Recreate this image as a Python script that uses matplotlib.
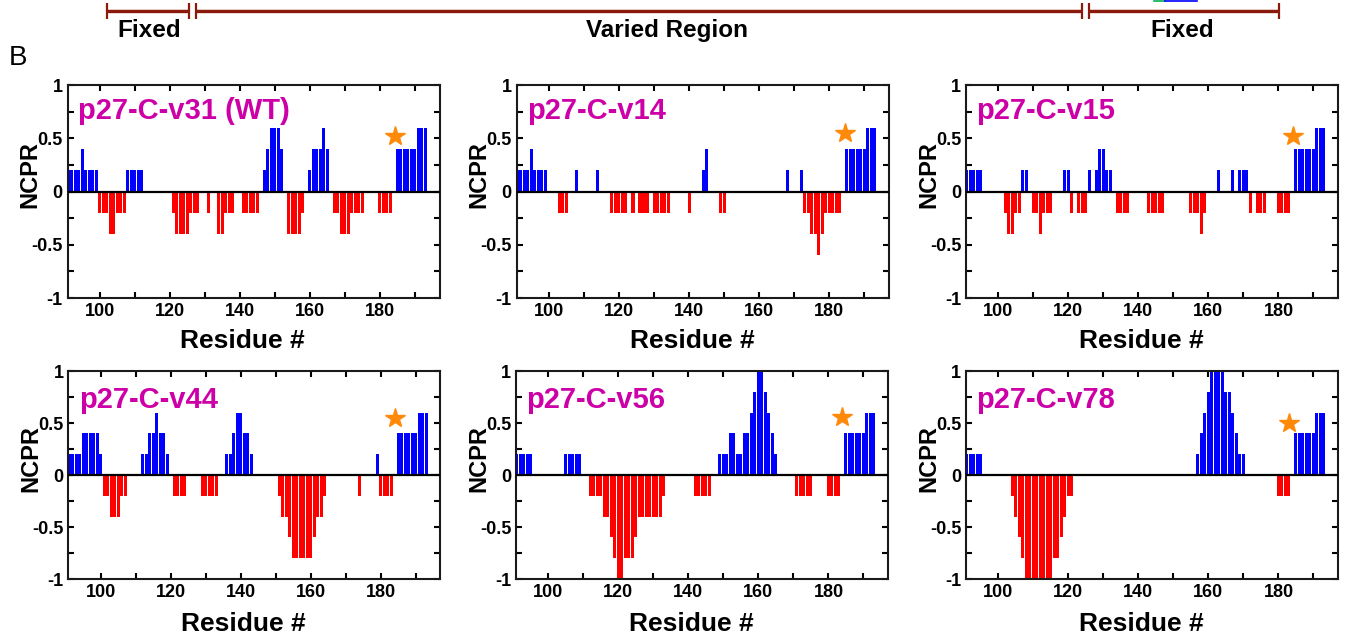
import matplotlib
matplotlib.use('Agg')
import matplotlib.pyplot as plt
from matplotlib.ticker import FixedLocator, FixedFormatter, MultipleLocator

plt.rcParams['font.family'] = ['Liberation Sans', 'DejaVu Sans']
plt.rcParams['axes.unicode_minus'] = False

# ---------------- data ----------------
residues = list(range(91, 198))

ncpr_v31 = [0.2, 0.2, 0.2, 0.2, 0.4, 0.2, 0.2, 0.2, 0.2, -0.2,
            -0.2, -0.2, -0.4, -0.4, -0.2, -0.2, -0.2, 0.2, 0.2, 0.2,
            0.2, 0.2, 0, 0, 0, 0, 0, 0, 0, 0,
            -0.2, -0.4, -0.4, -0.4, -0.4, -0.2, -0.2, -0.2, 0, 0,
            -0.2, 0, 0, -0.4, -0.4, -0.2, -0.2, -0.2, 0, 0,
            -0.2, -0.2, -0.2, -0.2, -0.2, 0, 0.2, 0.4, 0.6, 0.6,
            0.6, 0.4, 0, -0.4, -0.4, -0.4, -0.4, -0.2, 0, 0.2,
            0.4, 0.4, 0.4, 0.6, 0.4, 0, -0.2, -0.2, -0.4, -0.4,
            -0.4, -0.2, -0.2, -0.2, -0.2, 0, 0, 0, 0, -0.2,
            -0.2, -0.2, -0.2, 0, 0.4, 0.4, 0.4, 0.4, 0.4, 0.4,
            0.6, 0.6, 0.6, 0, 0, 0, 0]

ncpr_v14 = [0.2, 0.2, 0.2, 0.2, 0.4, 0.2, 0.2, 0.2, 0.2, 0,
            0, 0, -0.2, -0.2, -0.2, 0, 0, 0.2, 0, 0,
            0, 0, 0, 0.2, 0, 0, 0, -0.2, -0.2, -0.2,
            -0.2, -0.2, 0, -0.2, 0, -0.2, -0.2, -0.2, 0, -0.2,
            -0.2, -0.2, -0.2, -0.2, 0, 0, 0, 0, 0, -0.2,
            0, 0, 0, 0.2, 0.4, 0, 0, 0, -0.2, -0.2,
            0, 0, 0, 0, 0, 0, 0, 0, 0, 0,
            0, 0, 0, 0, 0, 0, 0, 0.2, 0, 0,
            0, 0.2, -0.2, -0.2, -0.4, -0.4, -0.6, -0.4, -0.2, -0.2,
            -0.2, -0.2, -0.2, 0, 0.4, 0.4, 0.4, 0.4, 0.4, 0.4,
            0.6, 0.6, 0.6, 0, 0, 0, 0]

ncpr_v15 = [0.2, 0.2, 0.2, 0.2, 0.2, 0, 0, 0, 0, 0,
            0, -0.2, -0.4, -0.4, -0.2, -0.2, 0.2, 0.2, 0, -0.2,
            -0.2, -0.4, -0.2, -0.2, -0.2, 0, 0, 0, 0.2, 0.2,
            -0.2, 0, -0.2, -0.2, -0.2, 0.2, 0, 0.2, 0.4, 0.4,
            0.2, 0.2, 0, -0.2, -0.2, -0.2, -0.2, 0, 0, 0,
            0, 0, -0.2, -0.2, -0.2, -0.2, -0.2, 0, 0, 0,
            0, 0, 0, 0, -0.2, -0.2, -0.2, -0.4, -0.2, 0,
            0, 0, 0.2, 0, 0, 0, 0.2, 0, 0.2, 0.2,
            0.2, -0.2, 0, -0.2, -0.2, -0.2, 0, 0, 0, -0.2,
            -0.2, -0.2, -0.2, 0, 0.4, 0.4, 0.4, 0.4, 0.4, 0.4,
            0.6, 0.6, 0.6, 0, 0, 0, 0]

ncpr_v44 = [0.2, 0.2, 0.2, 0.2, 0.4, 0.4, 0.4, 0.4, 0.4, 0.2,
            -0.2, -0.2, -0.4, -0.4, -0.4, -0.2, -0.2, 0, 0, 0,
            0, 0.2, 0.2, 0.4, 0.4, 0.6, 0.4, 0.4, 0.2, 0,
            -0.2, -0.2, -0.2, -0.2, 0, 0, 0, 0, -0.2, -0.2,
            -0.2, -0.2, -0.2, 0, 0, 0.2, 0.2, 0.4, 0.6, 0.6,
            0.4, 0.4, 0.2, 0, 0, 0, 0, 0, 0, 0,
            -0.2, -0.4, -0.4, -0.6, -0.8, -0.8, -0.8, -0.8, -0.8, -0.8,
            -0.6, -0.4, -0.4, -0.2, 0, 0, 0, 0, 0, 0,
            0, 0, 0, -0.2, 0, 0, 0, 0, 0.2, -0.2,
            -0.2, -0.2, -0.2, 0, 0.4, 0.4, 0.4, 0.4, 0.4, 0.4,
            0.6, 0.6, 0.6, 0, 0, 0, 0]

ncpr_v56 = [0.2, 0.2, 0.2, 0.2, 0.2, 0, 0, 0, 0, 0,
            0, 0, 0, 0, 0.2, 0.2, 0.2, 0.2, 0.2, 0,
            0, -0.2, -0.2, -0.2, -0.2, -0.4, -0.4, -0.6, -0.8, -1.0,
            -1.0, -0.8, -0.8, -0.8, -0.6, -0.4, -0.4, -0.4, -0.4, -0.4,
            -0.4, -0.4, -0.2, 0, 0, 0, 0, 0, 0, 0,
            0, -0.2, -0.2, -0.2, -0.2, -0.2, 0, 0, 0.2, 0.2,
            0.2, 0.4, 0.4, 0.2, 0.2, 0.4, 0.4, 0.6, 0.8, 1.0,
            1.0, 0.8, 0.6, 0.4, 0.2, 0, 0, 0, 0, 0,
            -0.2, -0.2, -0.2, -0.2, -0.2, 0, 0, 0, 0, -0.2,
            -0.2, -0.2, -0.2, 0, 0.4, 0.4, 0.4, 0.4, 0.4, 0.4,
            0.6, 0.6, 0.6, 0, 0, 0, 0]

ncpr_v78 = [0.2, 0.2, 0.2, 0.2, 0.2, 0, 0, 0, 0, 0,
            0, 0, 0, -0.2, -0.4, -0.6, -0.8, -1.0, -1.0, -1.0,
            -1.0, -1.0, -1.0, -1.0, -1.0, -0.8, -0.8, -0.6, -0.4, -0.2,
            -0.2, 0, 0, 0, 0, 0, 0, 0, 0, 0,
            0, 0, 0, 0, 0, 0, 0, 0, 0, 0,
            0, 0, 0, 0, 0, 0, 0, 0, 0, 0,
            0, 0, 0, 0, 0, 0, 0.2, 0.4, 0.6, 0.8,
            1.0, 1.0, 1.0, 1.0, 0.8, 0.8, 0.6, 0.4, 0.2, 0.2,
            0, 0, 0, 0, 0, 0, 0, 0, 0, -0.2,
            -0.2, -0.2, -0.2, 0, 0.4, 0.4, 0.4, 0.4, 0.4, 0.4,
            0.6, 0.6, 0.6, 0, 0, 0, 0]

panel_names = ['p27-C-v31 (WT)', 'p27-C-v14', 'p27-C-v15',
               'p27-C-v44', 'p27-C-v56', 'p27-C-v78']
panel_values = [ncpr_v31, ncpr_v14, ncpr_v15, ncpr_v44, ncpr_v56, ncpr_v78]
star_x = [184.3, 184.5, 184.1, 184.0, 183.9, 183.0]
star_y = [0.52, 0.55, 0.52, 0.55, 0.56, 0.50]

x_ticks = [100, 120, 140, 160, 180]
x_minor = [110, 130, 150, 170, 190]
y_ticks = [-1, -0.5, 0, 0.5, 1]
y_tick_labels = ['-1', '-0.5', '0', '0.5', '1']
y_minor = [-0.75, -0.25, 0.25, 0.75]

header_labels = ['Fixed', 'Varied Region', 'Fixed']

# ---------------- styling ----------------
W, H = 1354, 639
fig = plt.figure(figsize=(W / 100, H / 100), dpi=100)

BLUE = '#0000ff'
RED = '#ff0000'
MAGENTA = '#cc00a6'
ORANGE = '#ff8a0a'
DARKRED = '#8a1a0c'

# overlay for header annotation (pixel coordinates)
ov = fig.add_axes([0, 0, 1, 1], zorder=-1)
ov.set_xlim(0, W)
ov.set_ylim(H, 0)
ov.axis('off')
segments = [(107, 189), (196, 1082), (1089, 1279)]
for (a, b) in segments:
    ov.plot([a, b], [10, 10], color='#d8a49c', lw=1.0, solid_capstyle='butt')
    ov.plot([a, b], [11, 11], color=DARKRED, lw=2.4, solid_capstyle='butt')
    for xx in (a, b):
        ov.plot([xx, xx], [3, 19], color=DARKRED, lw=1.6, solid_capstyle='butt')
header_x = [149.5, 667.5, 1182.5]
for lab, hx in zip(header_labels, header_x):
    ov.text(hx, 37, lab, ha='center', va='baseline', fontsize=17.5,
            fontweight='bold', color='black')
ov.text(9, 65, 'B', ha='left', va='baseline', fontsize=20, color='black')
ov.plot([1154, 1165], [0.5, 0.5], color='#00b050', lw=1.2)
ov.plot([1165, 1197], [0.5, 0.5], color='#0000ff', lw=1.2)

lefts_top = [67.5, 516.7, 966.0]
lefts_bot = [68.3, 516.0, 966.0]
axw = 372.0
rows = [(85.0, 298.0), (371.0, 579.0)]

for i in range(6):
    r, c = divmod(i, 3)
    left = (lefts_top if r == 0 else lefts_bot)[c]
    top, bot = rows[r]
    ax = fig.add_axes([left / W, 1 - bot / H, axw / W, (bot - top) / H])
    vals = panel_values[i]
    cols = [BLUE if v > 0 else RED for v in vals]
    ax.bar(residues, vals, width=0.86, color=cols, linewidth=0, zorder=2)
    ax.axhline(0, color='black', lw=1.6, zorder=3)
    ax.plot(star_x[i], star_y[i], marker='*', ms=15, color=ORANGE,
            mec=ORANGE, zorder=5)
    ax.set_xlim(90.8, 197.0)
    ax.set_ylim(-1, 1)
    ax.xaxis.set_major_locator(FixedLocator(x_ticks))
    ax.xaxis.set_minor_locator(FixedLocator(x_minor))
    ax.yaxis.set_major_locator(FixedLocator(y_ticks))
    ax.yaxis.set_major_formatter(FixedFormatter(y_tick_labels))
    ax.yaxis.set_minor_locator(FixedLocator(y_minor))
    ax.tick_params(which='both', direction='in', top=True, right=True,
                   length=4, width=1.5, color='black')
    ax.tick_params(which='major', labelsize=13, pad=3.5)
    for lab in ax.get_xticklabels() + ax.get_yticklabels():
        lab.set_fontweight('bold')
    for sp in ax.spines.values():
        sp.set_linewidth(1.5)
        sp.set_color('#1a1a1a')
    ax.text(0.028, 0.945 if r == 0 else 0.93, panel_names[i], transform=ax.transAxes,
            ha='left', va='top', fontsize=21, fontweight='bold', color=MAGENTA, zorder=6)
    ax.text(0.471, -0.235 if r == 0 else -0.25, 'Residue #', transform=ax.transAxes,
            ha='center', va='baseline', fontsize=19, fontweight='bold')
    ax.text(-0.101, 0.58, 'NCPR', transform=ax.transAxes, rotation=90,
            ha='center', va='center', fontsize=17, fontweight='bold')

fig.savefig('out.png', dpi=100)
